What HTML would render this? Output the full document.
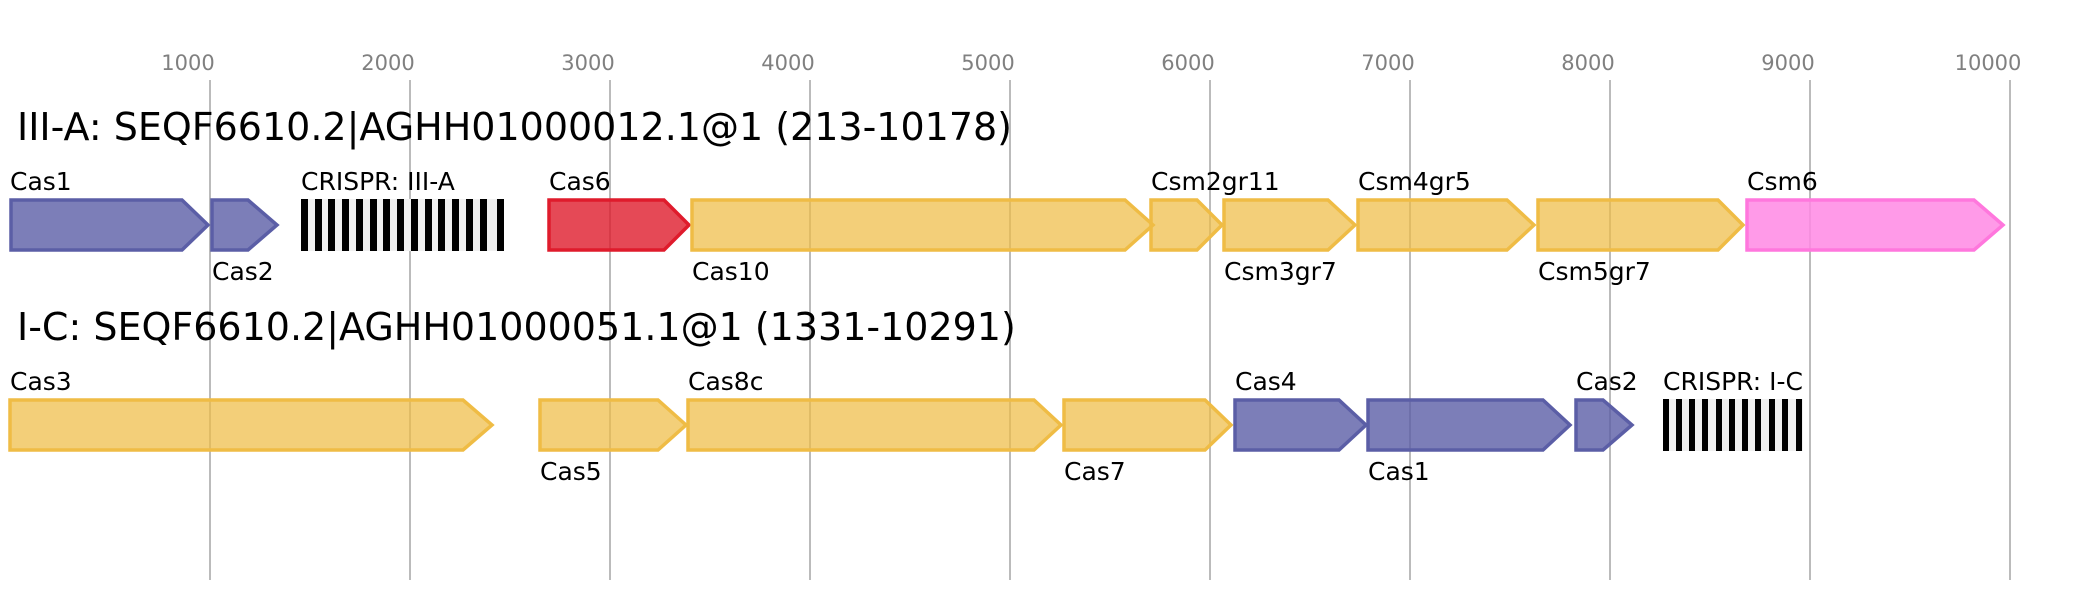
<!DOCTYPE html>
<html><head><meta charset="utf-8"><style>
html,body{margin:0;padding:0;background:#fff;}
svg{display:block;}
text{font-family:"DejaVu Sans","Liberation Sans",sans-serif;}
.t{font-size:21px;fill:#808080;text-anchor:middle;}
.h{font-size:38px;fill:#000;}
.l{font-size:25px;fill:#000;}
.g{stroke:#bbbbbb;stroke-width:2;}
.b{fill:#5b5ea6;fill-opacity:0.8;stroke:#5b5ea6;stroke-width:3.5;}
.y{fill:#efbc45;fill-opacity:0.72;stroke:#efbc45;stroke-width:3.5;}
.r{fill:#df1b2c;fill-opacity:0.8;stroke:#df1b2c;stroke-width:3.5;}
.p{fill:#ff88e4;fill-opacity:0.85;stroke:#ff77dd;stroke-width:3.5;}
</style></head><body>
<svg width="2093" height="600" viewBox="0 0 2093 600" xmlns="http://www.w3.org/2000/svg">
<g class="g">
<line x1="210" y1="80" x2="210" y2="580"/><line x1="410" y1="80" x2="410" y2="580"/>
<line x1="610" y1="80" x2="610" y2="580"/><line x1="810" y1="80" x2="810" y2="580"/>
<line x1="1010" y1="80" x2="1010" y2="580"/><line x1="1210" y1="80" x2="1210" y2="580"/>
<line x1="1410" y1="80" x2="1410" y2="580"/><line x1="1610" y1="80" x2="1610" y2="580"/>
<line x1="1810" y1="80" x2="1810" y2="580"/><line x1="2010" y1="80" x2="2010" y2="580"/>
</g>
<g class="t">
<text x="188" y="70">1000</text><text x="388" y="70">2000</text><text x="588" y="70">3000</text>
<text x="788" y="70">4000</text><text x="988" y="70">5000</text><text x="1188" y="70">6000</text>
<text x="1388" y="70">7000</text><text x="1588" y="70">8000</text><text x="1788" y="70">9000</text>
<text x="1988" y="70">10000</text>
</g>
<text class="h" x="17" y="140">III-A: SEQF6610.2|AGHH01000012.1@1 (213-10178)</text>
<text class="h" x="17" y="340">I-C: SEQF6610.2|AGHH01000051.1@1 (1331-10291)</text>

<polygon class="b" points="11,200 182,200 208,225 182,250 11,250"/>
<polygon class="b" points="212,200 248,200 277,225 248,250 212,250"/>
<rect x="301" y="199" width="203" height="52" fill="#f0f0f0"/>
<g fill="#000">
<rect x="301" y="199" width="7" height="52"/><rect x="315" y="199" width="7" height="52"/><rect x="328" y="199" width="7" height="52"/><rect x="342" y="199" width="7" height="52"/><rect x="356" y="199" width="7" height="52"/><rect x="370" y="199" width="7" height="52"/><rect x="383" y="199" width="7" height="52"/><rect x="397" y="199" width="7" height="52"/><rect x="411" y="199" width="7" height="52"/><rect x="425" y="199" width="7" height="52"/><rect x="438" y="199" width="7" height="52"/><rect x="452" y="199" width="7" height="52"/><rect x="466" y="199" width="7" height="52"/><rect x="480" y="199" width="7" height="52"/><rect x="497" y="199" width="7" height="52"/>
</g>
<polygon class="r" points="549,200 664,200 689,225 664,250 549,250"/>
<polygon class="y" points="692,200 1125,200 1153,225 1125,250 692,250"/>
<polygon class="y" points="1151,200 1197,200 1222,225 1197,250 1151,250"/>
<polygon class="y" points="1224,200 1328,200 1355,225 1328,250 1224,250"/>
<polygon class="y" points="1358,200 1507,200 1534,225 1507,250 1358,250"/>
<polygon class="y" points="1538,200 1718,200 1743,225 1718,250 1538,250"/>
<polygon class="p" points="1747,200 1974,200 2003,225 1974,250 1747,250"/>
<g class="l">
<text x="10" y="190">Cas1</text>
<text x="212" y="280">Cas2</text>
<text x="301" y="190">CRISPR: III-A</text>
<text x="549" y="190">Cas6</text>
<text x="692" y="280">Cas10</text>
<text x="1151" y="190">Csm2gr11</text>
<text x="1224" y="280">Csm3gr7</text>
<text x="1358" y="190">Csm4gr5</text>
<text x="1538" y="280">Csm5gr7</text>
<text x="1747" y="190">Csm6</text>
</g>

<polygon class="y" points="10,400 463,400 492,425 463,450 10,450"/>
<polygon class="y" points="540,400 658,400 686,425 658,450 540,450"/>
<polygon class="y" points="688,400 1034,400 1061,425 1034,450 688,450"/>
<polygon class="y" points="1064,400 1205,400 1231,425 1205,450 1064,450"/>
<polygon class="b" points="1235,400 1339,400 1366,425 1339,450 1235,450"/>
<polygon class="b" points="1368,400 1543,400 1570,425 1543,450 1368,450"/>
<polygon class="b" points="1576,400 1603,400 1632,425 1603,450 1576,450"/>
<rect x="1663" y="399" width="140" height="52" fill="#f0f0f0"/>
<g fill="#000">
<rect x="1663" y="399" width="6" height="52"/><rect x="1676" y="399" width="6" height="52"/><rect x="1689" y="399" width="6" height="52"/><rect x="1702" y="399" width="6" height="52"/><rect x="1716" y="399" width="6" height="52"/><rect x="1729" y="399" width="6" height="52"/><rect x="1742" y="399" width="6" height="52"/><rect x="1755" y="399" width="6" height="52"/><rect x="1769" y="399" width="6" height="52"/><rect x="1782" y="399" width="6" height="52"/><rect x="1796" y="399" width="6" height="52"/>
</g>
<g class="l">
<text x="10" y="390">Cas3</text>
<text x="540" y="480">Cas5</text>
<text x="688" y="390">Cas8c</text>
<text x="1064" y="480">Cas7</text>
<text x="1235" y="390">Cas4</text>
<text x="1368" y="480">Cas1</text>
<text x="1576" y="390">Cas2</text>
<text x="1663" y="390">CRISPR: I-C</text>
</g>
</svg>
</body></html>
